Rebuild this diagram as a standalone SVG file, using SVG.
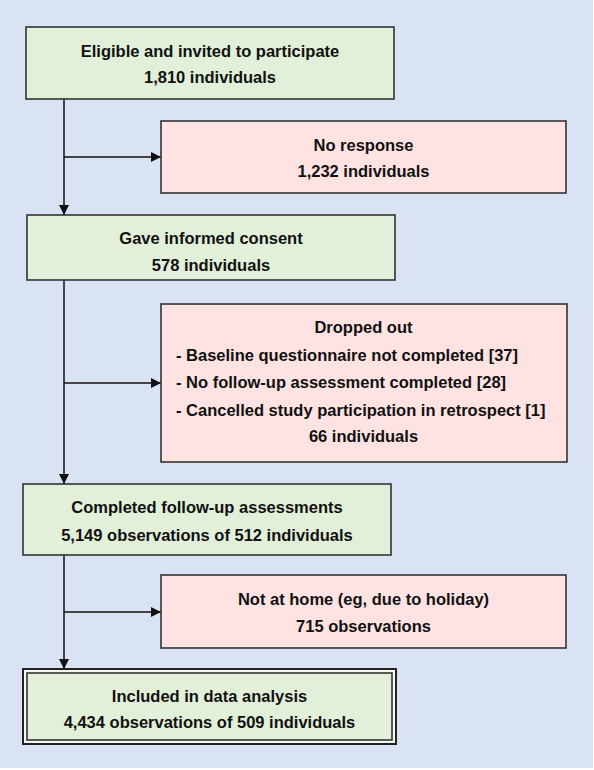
<svg xmlns="http://www.w3.org/2000/svg" width="594" height="770" viewBox="0 0 594 770">
<style>
.bg{fill:#DAE3F3}
.g{fill:#E2F0D9;stroke:#333;stroke-width:1.6}
.p{fill:#FFE3E3;stroke:#333;stroke-width:1.6}
.t{font-family:"Liberation Sans",Arial,sans-serif;font-weight:bold;font-size:16.5px;fill:#111;text-anchor:middle}
.l{text-anchor:start}
.c{fill:none;stroke:#111;stroke-width:1.5}
</style>
<defs>
<marker id="ah" viewBox="0 0 10 10" refX="10" refY="5" markerWidth="10" markerHeight="10" markerUnits="userSpaceOnUse" orient="auto">
<path d="M0,0 L10,5 L0,10 Z" fill="#111"/>
</marker>
</defs>
<rect x="0" y="0" width="594" height="770" fill="#fff"/>
<rect class="bg" x="0" y="0" width="593" height="768"/>
<g id="connectors">
<path class="c" d="M64,99 V215" marker-end="url(#ah)"/>
<path class="c" d="M64,157 H161" marker-end="url(#ah)"/>
<path class="c" d="M64,280 V484" marker-end="url(#ah)"/>
<path class="c" d="M64,383 H161" marker-end="url(#ah)"/>
<path class="c" d="M64,555 V669" marker-end="url(#ah)"/>
<path class="c" d="M64,612 H161" marker-end="url(#ah)"/>
</g>
<g id="eligible">
<rect class="g" x="26" y="27" width="368" height="72"/>
<text class="t" x="210" y="57">Eligible and invited to participate</text>
<text class="t" x="210" y="83">1,810 individuals</text>
</g>
<g id="noresponse">
<rect class="p" x="161" y="121" width="405" height="72"/>
<text class="t" x="363.5" y="151">No response</text>
<text class="t" x="363.5" y="177">1,232 individuals</text>
</g>
<g id="consent">
<rect class="g" x="27" y="215" width="368" height="65"/>
<text class="t" x="211" y="244">Gave informed consent</text>
<text class="t" x="211" y="271">578 individuals</text>
</g>
<g id="dropped">
<rect class="p" x="161" y="304" width="406" height="158"/>
<text class="t" x="363.5" y="333">Dropped out</text>
<text class="t l" x="176" y="361">- Baseline questionnaire not completed [37]</text>
<text class="t l" x="176" y="388">- No follow-up assessment completed [28]</text>
<text class="t l" x="176" y="416">- Cancelled study participation in retrospect [1]</text>
<text class="t" x="363.5" y="442">66 individuals</text>
</g>
<g id="completed">
<rect class="g" x="23" y="484" width="368" height="71"/>
<text class="t" x="207" y="513">Completed follow-up assessments</text>
<text class="t" x="207" y="541">5,149 observations of 512 individuals</text>
</g>
<g id="notathome">
<rect class="p" x="161" y="575" width="405" height="73"/>
<text class="t" x="363.5" y="605">Not at home (eg, due to holiday)</text>
<text class="t" x="363.5" y="632">715 observations</text>
</g>
<g id="included">
<rect x="23" y="669" width="373" height="75" fill="#F4F6F0" stroke="#222" stroke-width="2"/>
<rect class="g" x="27" y="673" width="365" height="67"/>
<text class="t" x="209.5" y="702">Included in data analysis</text>
<text class="t" x="209.5" y="728">4,434 observations of 509 individuals</text>
</g>
</svg>
